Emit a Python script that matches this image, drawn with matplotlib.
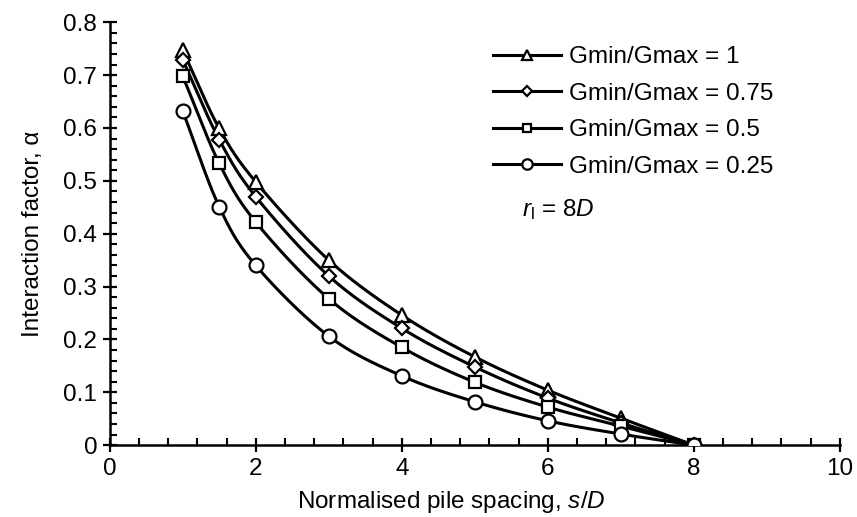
import numpy as np
import matplotlib.pyplot as plt
from matplotlib.ticker import MultipleLocator

plt.rcParams['font.family'] = ['Liberation Sans', 'DejaVu Sans']
plt.rcParams['mathtext.fontset'] = 'custom'
plt.rcParams['mathtext.rm'] = 'Liberation Sans'
plt.rcParams['mathtext.it'] = 'Liberation Sans:italic'

# data
spacing = [1, 1.5, 2, 3, 4, 5, 6, 7, 8]
alpha_100 = [0.747, 0.599, 0.498, 0.350, 0.246, 0.167, 0.104, 0.051, 0.0]
alpha_075 = [0.729, 0.578, 0.470, 0.320, 0.221, 0.148, 0.089, 0.042, 0.0]
alpha_050 = [0.698, 0.533, 0.422, 0.277, 0.185, 0.119, 0.072, 0.036, 0.0]
alpha_025 = [0.632, 0.451, 0.340, 0.206, 0.131, 0.082, 0.046, 0.021, 0.0]
labels = ['Gmin/Gmax = 1', 'Gmin/Gmax = 0.75', 'Gmin/Gmax = 0.5', 'Gmin/Gmax = 0.25']
markers = ['^', 'D', 's', 'o']
msizes = [9.5, 7.0, 8.6, 10]


# smoothed line like excel (catmull-rom)
def smooth(x, y, n=30):
    x = np.asarray(x, float)
    y = np.asarray(y, float)
    px = np.concatenate([[2 * x[0] - x[1]], x, [2 * x[-1] - x[-2]]])
    py = np.concatenate([[2 * y[0] - y[1]], y, [2 * y[-1] - y[-2]]])
    xs, ys = [], []
    t = np.linspace(0, 1, n)
    for i in range(1, len(px) - 2):
        for p, out in ((px, xs), (py, ys)):
            p0, p1, p2, p3 = p[i - 1], p[i], p[i + 1], p[i + 2]
            out.extend(0.5 * (2 * p1 + (-p0 + p2) * t
                              + (2 * p0 - 5 * p1 + 4 * p2 - p3) * t ** 2
                              + (-p0 + 3 * p1 - 3 * p2 + p3) * t ** 3))
    return np.array(xs), np.array(ys)


fig = plt.figure(figsize=(8.57, 5.17), dpi=100)
ax = fig.add_axes([0.128, 0.139, 0.852, 0.818])

series = [alpha_100, alpha_075, alpha_050, alpha_025]
for vals, lab, mk, ms in zip(series, labels, markers, msizes):
    sx, sy = smooth(spacing, vals)
    ax.plot(sx, sy, color='black', lw=2.2, zorder=2)
    ax.plot(spacing, vals, linestyle='none', marker=mk, ms=ms, mfc='white',
            mec='black', mew=1.6, zorder=3)
    ax.plot([], [], color='black', lw=2.2, marker=mk, ms=ms * 0.75, mfc='white',
            mec='black', mew=1.6, label=lab)

ax.set_xlim(0, 10)
ax.set_ylim(0, 0.8)
ax.xaxis.set_major_locator(MultipleLocator(2))
ax.xaxis.set_minor_locator(MultipleLocator(0.4))
ax.yaxis.set_major_locator(MultipleLocator(0.1))
ax.yaxis.set_minor_locator(MultipleLocator(0.02))
ax.xaxis.set_major_formatter(lambda v, p: f'{v:g}')
ax.yaxis.set_major_formatter(lambda v, p: f'{v:g}')

for s in ['top', 'right']:
    ax.spines[s].set_visible(False)
for s in ['left', 'bottom']:
    ax.spines[s].set_linewidth(1.8)

ax.tick_params(which='major', direction='inout', length=10, width=1.6,
               labelsize=17.5, pad=4)
ax.tick_params(which='minor', direction='in', length=5, width=1.5)

ax.set_xlabel('Normalised pile spacing, $s/D$', fontsize=17.5)
ax.xaxis.set_label_coords(0.468, -0.104)
ax.set_ylabel('Interaction factor, α', fontsize=17.5, labelpad=14)

leg = ax.legend(loc='upper left', bbox_to_anchor=(0.575, 0.911),
                bbox_transform=fig.transFigure, frameon=False, fontsize=17.5,
                handlelength=2.8, handletextpad=0.35, labelspacing=0.6,
                borderpad=0, borderaxespad=0)

fig.text(522 / 857, 1 - 210 / 517, r'$r_{\mathrm{l}}$ = 8$D$', fontsize=17.5,
         va='center', ha='left')

fig.savefig('out.png', dpi=100)
